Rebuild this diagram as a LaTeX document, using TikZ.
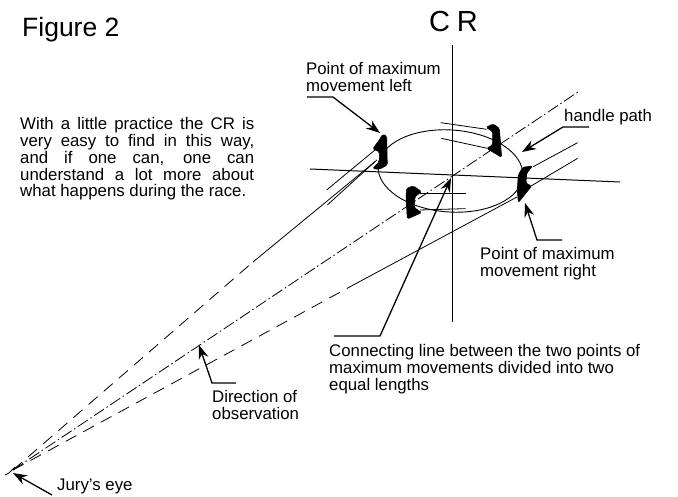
\documentclass[tikz,border=0pt]{standalone}
\usepackage{fontspec}
\setmainfont{Liberation Sans}
\usetikzlibrary{arrows.meta, positioning}

\begin{document}
\begin{tikzpicture}[
      x=1pt, y=-1pt,
      >={Stealth[length=14pt,width=10pt]},
      axisline/.style = {draw, line width=1pt},
      thinline/.style = {draw, line width=0.8pt},
      sightline/.style = {draw, line width=0.8pt, dash pattern=on 12pt off 8pt},
      centreline/.style = {draw, line width=0.8pt, dash pattern=on 12pt off 3pt on 1.5pt off 3pt},
      leader/.style = {draw, line width=1.3pt, ->},
      handle/.style = {fill=black, draw=black, line width=0.6pt, line join=round, rounded corners=1.5pt},
      caption/.style = {font=\fontsize{16.8}{16.7}\selectfont, align=left, inner sep=0pt, anchor=west}
    ]
    \useasboundingbox (0,0) rectangle (678,497);

    % coordinates of the sight lines
    \coordinate (eye) at (13,470);
    \coordinate (upperend) at (253,262);
    \coordinate (upperhandle) at (377,160);
    \coordinate (lowerend) at (357,283);
    \coordinate (lowerfar) at (517,197);
    \coordinate (centrefar) at (578,92);
    \coordinate (dirpoint) at (199,345);

    % axes
    \coordinate (axistop) at (452.5,45);
    \coordinate (axisbottom) at (452.5,322);
    \coordinate (axisleft) at (310,169);
    \coordinate (axisright) at (620,182);
    \draw[axisline] (axistop) -- (axisbottom);
    \draw[axisline] (axisleft) -- (axisright);

    % handle path
    \draw[line width=0.9pt, rotate around={-4:(450.5,171)}] (450.5,171) ellipse (72.5pt and 41pt);

    % sight lines
    \draw[sightline] (eye) -- (upperend);
    \draw[sightline] (eye) -- (lowerend);
    \draw[thinline] (upperend) -- (upperhandle);
    \draw[thinline] (lowerend) -- (lowerfar);
    \draw[centreline] (eye) -- (centrefar);
    \draw[line width=0.8pt] (5,475) -- (9,473) -- (15,467);

    % oars, in units of the zoomed crop
    \begin{scope}[shift={(300,50)}, x=0.3333pt, y=-0.3333pt]
      \foreach \xa/\ya/\xb/\yb in {
          80/420/225/300, 82/465/225/335,
          422/218/560/238, 424/265/562/295,
          700/350/833/278, 690/410/833/325,
          360/430/497/430, 360/480/497/476}
        \draw[thinline] (\xa,\ya) -- (\xb,\yb);

      \fill[handle] (248,253) -- (260,258) -- (262,345) -- (238,358) -- (218,356)
        -- (238,335) -- (238,305) -- (218,297) -- (238,270) -- cycle;
      \fill[handle] (558,232) -- (580,222) -- (598,235) -- (605,322) -- (560,295)
        -- (578,285) -- (578,245) -- cycle;
      \fill[handle] (655,375) -- (668,352) -- (698,348) -- (680,370) -- (678,400)
        -- (695,408) -- (655,458) -- (652,420) -- cycle;
      \fill[handle] (320,415) -- (340,408) -- (365,425) -- (345,440) -- (342,472)
        -- (365,488) -- (322,507) -- (318,440) -- cycle;
    \end{scope}

    % texts
    \node[inner sep=0pt, anchor=base west, font=\fontsize{26.5}{28}\selectfont] (figtitle) at (22,37) {Figure 2};
    \node[inner sep=0pt, anchor=base, font=\fontsize{29}{31}\selectfont] (crtitle) at (453.5,32) {C\kern7pt R};
    \node[caption, text width=234pt, align=justify] (practice) at (20,159) {With a little practice the CR is\linebreak
      very easy to find in this way,\linebreak
      and if one can, one can\linebreak
      understand a lot more about\linebreak
      what happens during the race.};
    \node[caption] (maxleft) at (306,77) {Point of maximum\\movement left};
    \node[caption] (pathlabel) at (564,117) {handle path};
    \node[caption] (maxright) at (480,264) {Point of maximum\\movement right};
    \node[caption] (connecting) at (329,369) {Connecting line between the two points of\\maximum movements divided into two\\equal lengths};
    \node[caption] (direction) at (212,405) {Direction of\\observation};
    \node[caption] (jury) at (57,486) {Jury's eye};

    % leaders
    \coordinate (leftknee) at (333,97);
    \coordinate (leftstart) at (307,97);
    \coordinate (lefttip) at (380,133);
    \draw[leader] (leftstart) -- (leftknee) -- (lefttip);

    \coordinate (pathstart) at (589,127);
    \coordinate (pathknee) at (563,127);
    \coordinate (pathtip) at (522,152);
    \draw[leader] (pathstart) -- (pathknee) -- (pathtip);

    \coordinate (rightstart) at (562,240);
    \coordinate (rightknee) at (537,240);
    \coordinate (righttip) at (525,203);
    \draw[leader] (rightstart) -- (rightknee) -- (righttip);

    \coordinate (connstart) at (334,336);
    \coordinate (connknee) at (380,336);
    \coordinate (conntip) at (451,178);
    \draw[leader] (connstart) -- (connknee) -- (conntip);

    \coordinate (dirstart) at (236,383);
    \coordinate (dirknee) at (212,383);
    \draw[leader] (dirstart) -- (dirknee) -- (dirpoint);

    \coordinate (jurystart) at (52,495);
    \coordinate (jurytip) at (13,473);
    \draw[leader] (jurystart) -- (jurytip);

  \end{tikzpicture}
\end{document}
